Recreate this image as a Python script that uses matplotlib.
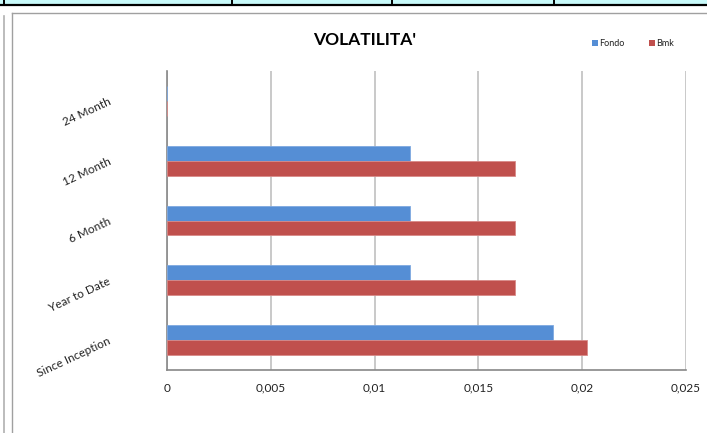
import numpy as np
import matplotlib.pyplot as plt
from matplotlib.lines import Line2D
from matplotlib.patches import Rectangle

# dati
categorie = ['Since Inception', 'Year to Date', '6 Month', '12 Month', '24 Month']
fondo = [0.01858, 0.01171, 0.01171, 0.01171, 0.0]
bmk = [0.02022, 0.01675, 0.01675, 0.01675, 0.0]
xtick_vals = [0, 0.005, 0.01, 0.015, 0.02, 0.025]
xtick_lab = ['0', '0,005', '0,01', '0,015', '0,02', '0,025']

plt.rcParams['font.family'] = ['Lato', 'DejaVu Sans']

W, H = 707, 433
fig = plt.figure(figsize=(W / 100, H / 100), dpi=100)
fig.patch.set_facecolor('white')

def px(x, y):
    return x / W, 1 - y / H

# striscia della tabella in alto (screenshot)
fig.add_artist(Rectangle((0, 1 - 5 / H), 1, 5 / H, transform=fig.transFigure,
                         facecolor='#c8fafa', edgecolor='none'))
fig.add_artist(Line2D([0, 1], [1 - 5 / H] * 2, transform=fig.transFigure, color='black', lw=1.6))
for xv in [4, 232, 392, 554]:
    fig.add_artist(Line2D([xv / W] * 2, [1, 1 - 5 / H], transform=fig.transFigure, color='black', lw=1.4))

# bordi grigi a sinistra e cornice del grafico
fig.add_artist(Line2D([4 / W] * 2, [1 - 16 / H, 0], transform=fig.transFigure, color='#b0b0b0', lw=1.2))
fig.add_artist(Line2D([12 / W] * 2, [1 - 13 / H, 0], transform=fig.transFigure, color='#a0a0a0', lw=1.0))
fig.add_artist(Line2D([12 / W, 1], [1 - 13 / H] * 2, transform=fig.transFigure, color='#a0a0a0', lw=1.0))

ax = fig.add_axes([167 / W, 63 / H, 519 / W, 299 / H])

y = np.arange(len(categorie))
h = 0.25
ax.barh(y + h / 2, fondo, height=h, color='#558ed5', edgecolor='#7fa9e0', linewidth=0.6, label='Fondo', zorder=3)
ax.barh(y - h / 2, bmk, height=h, color='#c0504d', edgecolor='#d88a88', linewidth=0.6, label='Bmk', zorder=3)

ax.set_xlim(0, 0.025)
ax.set_ylim(-0.5, 4.5)
ax.set_xticks(xtick_vals)
ax.set_xticklabels(xtick_lab, fontsize=8.5, color='#222222')
ax.set_yticks(y)
ax.set_yticklabels(categorie, fontsize=8.5, color='#222222', rotation=25,
                   ha='right', va='center', rotation_mode='anchor')
ax.tick_params(axis='y', length=0, pad=41)
ax.tick_params(axis='x', length=0, pad=9)

ax.grid(axis='x', color='#c0c0c0', lw=1.2, zorder=0)
for s in ['top', 'right']:
    ax.spines[s].set_visible(False)
for s in ['left', 'bottom']:
    ax.spines[s].set_color('#888888')
    ax.spines[s].set_linewidth(1.2)

fig.text(365 / W, 1 - 40 / H, "VOLATILITA'", ha='center', va='center',
         fontsize=12.5, fontweight='bold', color='black')

# legenda
fig.add_artist(Rectangle(px(592, 46), 6 / W, 6 / H, transform=fig.transFigure, facecolor='#558ed5', edgecolor='none'))
fig.text(599 / W, 1 - 43 / H, 'Fondo', fontsize=6.5, va='center', ha='left', color='#222222')
fig.add_artist(Rectangle(px(649, 46), 6 / W, 6 / H, transform=fig.transFigure, facecolor='#c0504d', edgecolor='none'))
fig.text(656 / W, 1 - 43 / H, 'Bmk', fontsize=6.5, va='center', ha='left', color='#222222')

fig.savefig('out.png', dpi=100)
